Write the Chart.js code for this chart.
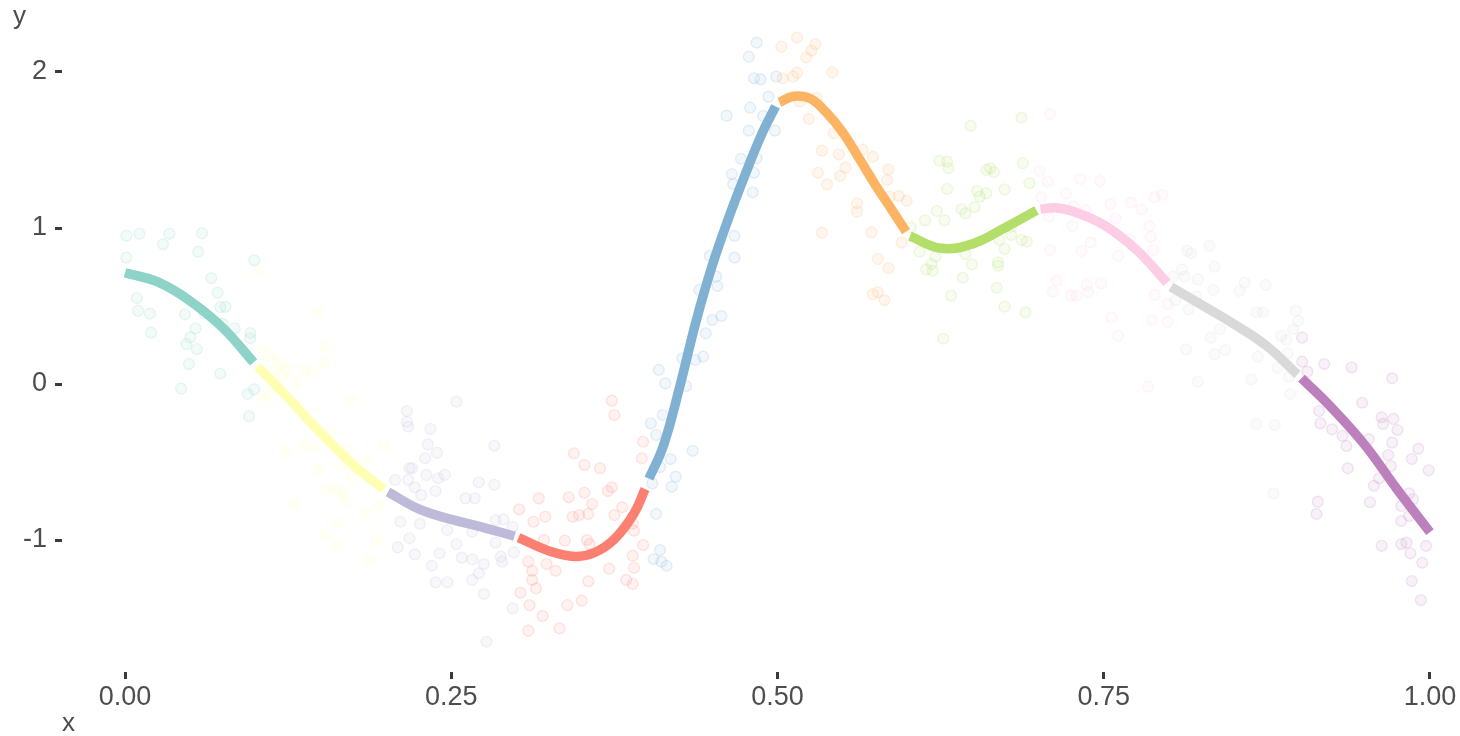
<!DOCTYPE html>
<html>
<head>
<meta charset="utf-8">
<script src="https://cdn.jsdelivr.net/npm/chart.js@4.4.1/dist/chart.umd.min.js"></script>
<style>
html,body{margin:0;padding:0;background:#ffffff;overflow:hidden}
#wrap{width:1460px;height:736px}
</style>
</head>
<body>
<div id="wrap"><canvas id="c" width="1460" height="736"></canvas></div>
<script>
// ---- tick labels / titles ----
const xTickValues = [0, 0.25, 0.5, 0.75, 1];
const yTickValues = [-1, 0, 1, 2];
const xTitle = 'x';
const yTitle = 'y';

// ---- group colours (ColorBrewer Set3) ----
const groupColors = ['#8DD3C7','#FFFFB3','#BEBADA','#FB8072','#80B1D3','#FDB462','#B3DE69','#FCCDE5','#D9D9D9','#BC80BD'];

// ---- fitted curve, one piece per group ----
const curveX = [
  [0, 0.025, 0.05, 0.075, 0.0985],
  [0.1015, 0.125, 0.15, 0.175, 0.1985],
  [0.2015, 0.225, 0.25, 0.275, 0.2985],
  [0.3015, 0.325, 0.345, 0.36, 0.375, 0.39, 0.3985],
  [0.4015, 0.4125, 0.425, 0.4375, 0.45, 0.4625, 0.475, 0.4875, 0.4985],
  [0.5015, 0.5125, 0.525, 0.5375, 0.55, 0.5625, 0.575, 0.5875, 0.5985],
  [0.6015, 0.625, 0.65, 0.675, 0.6985],
  [0.7015, 0.7125, 0.725, 0.75, 0.775, 0.7985],
  [0.8015, 0.825, 0.85, 0.875, 0.8985],
  [0.9015, 0.925, 0.95, 0.975, 1.0]
];
const curveY = [
  [0.713, 0.654, 0.532, 0.36, 0.139],
  [0.112, -0.09, -0.314, -0.52, -0.675],
  [-0.692, -0.80, -0.868, -0.92, -0.976],
  [-0.985, -1.07, -1.105, -1.08, -0.995, -0.83, -0.673],
  [-0.607, -0.397, -0.02, 0.399, 0.76, 1.064, 1.338, 1.594, 1.78],
  [1.805, 1.845, 1.83, 1.74, 1.612, 1.447, 1.276, 1.118, 0.977],
  [0.948, 0.87, 0.90, 1.005, 1.113],
  [1.121, 1.13, 1.11, 1.02, 0.86, 0.649],
  [0.622, 0.507, 0.383, 0.243, 0.061],
  [0.038, -0.155, -0.39, -0.677, -0.95]
];

// ---- observed points, one list per group ----
const pointX = [
  [0.001,0.011,0.034,0.059,0.029,0.001,0.056,0.099,0.066,0.071,0.009,0.010,0.019,0.073,0.077,0.046,0.061,0.075,0.054,0.084,0.096,0.096,0.020,0.050,0.047,0.055,0.049,0.073,0.043,0.094,0.099,0.095],
  [0.103,0.148,0.153,0.153,0.105,0.111,0.119,0.125,0.116,0.120,0.131,0.137,0.144,0.109,0.105,0.172,0.157,0.138,0.145,0.123,0.171,0.198,0.185,0.165,0.148,0.174,0.155,0.162,0.167,0.169,0.129,0.194,0.184,0.163,0.153,0.162,0.193,0.188],
  [0.254,0.216,0.216,0.217,0.234,0.232,0.283,0.239,0.230,0.218,0.220,0.231,0.240,0.245,0.207,0.217,0.271,0.283,0.222,0.238,0.227,0.261,0.268,0.211,0.226,0.247,0.266,0.284,0.290,0.297,0.218,0.254,0.284,0.209,0.222,0.241,0.258,0.266,0.288,0.289,0.298,0.235,0.275,0.271,0.238,0.247,0.266,0.275,0.297,0.277],
  [0.373,0.375,0.397,0.344,0.352,0.364,0.396,0.317,0.340,0.352,0.358,0.373,0.370,0.302,0.322,0.313,0.343,0.348,0.355,0.375,0.381,0.389,0.390,0.321,0.337,0.354,0.356,0.397,0.389,0.309,0.323,0.312,0.330,0.371,0.390,0.312,0.315,0.355,0.384,0.389,0.303,0.310,0.339,0.350,0.320,0.309,0.333],
  [0.418,0.410,0.422,0.404,0.419,0.407,0.410,0.405,0.411,0.415,0.484,0.478,0.482,0.487,0.499,0.493,0.479,0.461,0.489,0.478,0.498,0.472,0.484,0.465,0.482,0.466,0.481,0.467,0.467,0.448,0.453,0.454,0.440,0.457,0.450,0.445,0.443,0.437,0.427,0.409,0.414,0.430,0.412,0.403,0.407,0.435],
  [0.503,0.515,0.529,0.526,0.522,0.542,0.515,0.512,0.504,0.530,0.517,0.524,0.543,0.534,0.565,0.547,0.573,0.552,0.548,0.531,0.538,0.585,0.584,0.593,0.599,0.586,0.561,0.561,0.534,0.572,0.595,0.577,0.585,0.573,0.577,0.582],
  [0.648,0.687,0.624,0.630,0.631,0.688,0.660,0.663,0.666,0.693,0.630,0.653,0.660,0.655,0.674,0.651,0.641,0.644,0.622,0.613,0.628,0.602,0.679,0.679,0.670,0.687,0.691,0.674,0.609,0.644,0.621,0.649,0.669,0.669,0.618,0.614,0.619,0.642,0.668,0.633,0.674,0.690,0.627],
  [0.709,0.701,0.707,0.732,0.747,0.702,0.721,0.727,0.736,0.755,0.771,0.779,0.789,0.795,0.708,0.726,0.759,0.785,0.786,0.740,0.770,0.788,0.709,0.733,0.761,0.714,0.737,0.748,0.711,0.725,0.729,0.738,0.789,0.799,0.756,0.787,0.799,0.761,0.784],
  [0.831,0.814,0.817,0.835,0.810,0.822,0.812,0.803,0.858,0.874,0.834,0.854,0.821,0.805,0.815,0.867,0.872,0.897,0.899,0.895,0.839,0.886,0.890,0.832,0.813,0.843,0.835,0.891,0.868,0.883,0.892,0.863,0.822,0.893,0.867,0.881,0.880],
  [0.902,0.902,0.906,0.919,0.940,0.971,0.915,0.916,0.948,0.925,0.933,0.936,0.963,0.964,0.972,0.975,0.953,0.971,0.968,0.970,0.991,0.986,0.999,0.937,0.961,0.957,0.954,0.914,0.913,0.984,0.987,0.978,0.984,0.978,0.963,0.978,0.982,0.985,0.997,0.994,0.986,0.993]
];
const pointY = [
  [0.951,0.963,0.963,0.966,0.896,0.810,0.848,0.793,0.679,0.585,0.551,0.470,0.451,0.492,0.494,0.447,0.453,0.385,0.357,0.357,0.327,0.293,0.329,0.299,0.256,0.224,0.128,0.066,-0.030,-0.064,-0.034,-0.207],
  [0.720,0.457,0.246,0.133,0.218,0.175,0.137,0.090,0.090,0.047,0.004,0.090,0.069,-0.060,-0.103,-0.107,-0.301,-0.391,-0.402,-0.434,-0.412,-0.391,-0.487,-0.519,-0.547,-0.590,-0.669,-0.679,-0.701,-0.748,-0.769,-0.776,-0.829,-0.889,-0.968,-1.043,-1.000,-1.128],
  [-0.113,-0.173,-0.242,-0.274,-0.288,-0.387,-0.396,-0.440,-0.476,-0.540,-0.540,-0.583,-0.604,-0.583,-0.615,-0.615,-0.630,-0.646,-0.662,-0.686,-0.712,-0.733,-0.733,-0.883,-0.897,-0.936,-0.947,-0.872,-0.867,-0.915,-0.989,-1.026,-1.017,-1.047,-1.092,-1.085,-1.113,-1.124,-1.107,-1.139,-1.079,-1.165,-1.154,-1.213,-1.271,-1.271,-1.256,-1.346,-1.438,-1.652],
  [-0.107,-0.199,-0.370,-0.444,-0.519,-0.540,-0.476,-0.733,-0.726,-0.697,-0.769,-0.662,-0.686,-0.803,-0.851,-0.883,-0.851,-0.840,-0.833,-0.840,-0.790,-0.893,-0.940,-1.000,-1.004,-1.000,-1.026,-1.032,-1.101,-1.139,-1.154,-1.197,-1.197,-1.184,-1.178,-1.256,-1.310,-1.265,-1.256,-1.282,-1.338,-1.417,-1.417,-1.389,-1.487,-1.581,-1.566],
  [-0.481,-0.532,-0.594,-0.637,-0.658,-0.833,-1.064,-1.122,-1.139,-1.165,2.188,2.098,1.960,1.953,1.970,1.842,1.771,1.720,1.718,1.624,1.624,1.444,1.447,1.346,1.354,1.282,1.229,0.949,0.810,0.822,0.688,0.628,0.603,0.436,0.410,0.325,0.175,0.154,0.165,0.090,0.004,-0.013,-0.199,-0.252,-0.327,-0.428],
  [2.162,2.222,2.179,2.137,2.094,1.998,1.996,1.970,1.960,1.835,1.810,1.699,1.607,1.496,1.504,1.472,1.457,1.387,1.335,1.354,1.280,1.376,1.308,1.205,1.175,1.201,1.158,1.105,0.970,0.972,0.906,0.801,0.742,0.575,0.588,0.538],
  [1.656,1.707,1.431,1.425,1.383,1.415,1.372,1.383,1.359,1.287,1.250,1.237,1.222,1.201,1.248,1.133,1.120,1.094,1.109,1.049,1.049,1.004,1.008,0.955,0.923,0.923,0.912,0.865,0.848,0.833,0.816,0.767,0.780,0.758,0.769,0.735,0.726,0.681,0.617,0.566,0.496,0.460,0.290],
  [1.731,1.365,1.299,1.314,1.301,1.197,1.222,1.137,1.115,1.154,1.162,1.120,1.197,1.212,1.072,1.013,1.062,1.013,0.944,0.906,0.928,0.859,0.859,0.853,0.821,0.662,0.635,0.646,0.592,0.566,0.566,0.588,0.571,0.513,0.428,0.410,0.399,0.310,-0.017],
  [0.885,0.853,0.838,0.752,0.735,0.671,0.688,0.688,0.649,0.635,0.603,0.596,0.560,0.538,0.479,0.460,0.460,0.470,0.404,0.351,0.351,0.310,0.282,0.297,0.222,0.218,0.190,0.197,0.175,0.104,0.047,0.030,0.015,-0.064,-0.256,-0.263,-0.701],
  [0.297,0.143,0.079,0.128,0.107,0.037,-0.173,-0.252,-0.120,-0.290,-0.333,-0.397,-0.213,-0.256,-0.224,-0.295,-0.353,-0.376,-0.455,-0.526,-0.415,-0.481,-0.553,-0.540,-0.604,-0.652,-0.758,-0.754,-0.833,-0.701,-0.739,-0.782,-0.846,-0.878,-1.037,-1.026,-1.017,-1.085,-1.038,-1.146,-1.263,-1.385]
];

// ---- helpers ----
function rgba(hex, a) {
  const n = parseInt(hex.slice(1), 16);
  return 'rgba(' + ((n >> 16) & 255) + ',' + ((n >> 8) & 255) + ',' + (n & 255) + ',' + a + ')';
}
const FONT = '"Liberation Sans", Arial, Helvetica, sans-serif';
const TEXT = '#4D4D4D';

const datasets = [];
groupColors.forEach((col, g) => {
  datasets.push({
    label: 'points ' + (g + 1),
    data: pointX[g].map((x, i) => ({ x: x, y: pointY[g][i] })),
    showLine: false,
    pointRadius: 5.4,
    pointBorderWidth: 1.4,
    pointBackgroundColor: rgba(col, 0.1),
    pointBorderColor: rgba(col, 0.2),
    order: 100
  });
});
groupColors.forEach((col, g) => {
  datasets.push({
    label: 'curve ' + (g + 1),
    data: curveX[g].map((x, i) => ({ x: x, y: curveY[g][i] })),
    showLine: true,
    borderColor: col,
    borderWidth: 9.5,
    borderCapStyle: 'butt',
    borderJoinStyle: 'round',
    tension: 0.4,
    pointRadius: 0,
    pointHoverRadius: 0,
    fill: false,
    order: 0
  });
});

const axisTitles = {
  id: 'axisTitles',
  afterDraw(chart) {
    const ctx = chart.ctx;
    ctx.save();
    ctx.fillStyle = TEXT;
    ctx.font = '26px ' + FONT;
    ctx.textAlign = 'left';
    ctx.textBaseline = 'alphabetic';
    ctx.fillText(yTitle, 13, 24);
    ctx.fillText(xTitle, chart.chartArea.left, 731);
    ctx.restore();
  }
};

Chart.defaults.font.family = FONT;

new Chart(document.getElementById('c'), {
  type: 'scatter',
  data: { datasets: datasets },
  options: {
    responsive: false,
    animation: false,
    events: [],
    layout: { padding: 0, autoPadding: false },
    plugins: { legend: { display: false }, tooltip: { enabled: false }, title: { display: false } },
    scales: {
      x: {
        type: 'linear',
        min: -0.0483,
        max: 1.023,
        afterBuildTicks: s => { s.ticks = xTickValues.map(v => ({ value: v })); },
        afterFit: s => { s.height = 64; s.paddingLeft = 0; s.paddingRight = 0; s.paddingTop = 0; s.paddingBottom = 0; },
        ticks: {
          callback: v => Number(v).toFixed(2),
          color: TEXT,
          font: { size: 27 },
          padding: 2,
          maxRotation: 0,
          autoSkip: false
        },
        grid: { drawOnChartArea: false, drawTicks: true, tickLength: 7, tickWidth: 3, tickColor: '#3a3a3a' },
        border: { display: false }
      },
      y: {
        type: 'linear',
        min: -1.846,
        max: 2.4615,
        afterBuildTicks: s => { s.ticks = yTickValues.map(v => ({ value: v })); },
        afterFit: s => { s.width = 62; s.paddingTop = 0; s.paddingBottom = 0; s.paddingLeft = 0; s.paddingRight = 0; },
        ticks: {
          callback: v => String(v),
          color: TEXT,
          font: { size: 27 },
          padding: 8,
          autoSkip: false
        },
        grid: { drawOnChartArea: false, drawTicks: true, tickLength: 7, tickWidth: 3, tickColor: '#3a3a3a' },
        border: { display: false }
      }
    }
  },
  plugins: [axisTitles]
});
</script>
</body>
</html>
